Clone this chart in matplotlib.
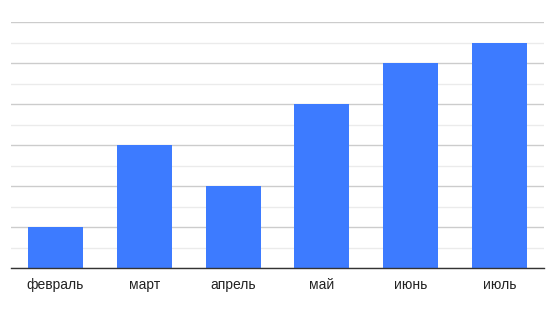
import matplotlib.pyplot as plt
import numpy as np

# Данные
months = ['февраль', 'март', 'апрель', 'май', 'июнь', 'июль']
values = [2, 6, 4, 8, 10, 11]

plt.rcParams['font.family'] = ['Liberation Sans', 'DejaVu Sans']

fig = plt.figure(figsize=(5.57, 3.12), dpi=100)
ax = fig.add_axes([11/557, 44/312, 533/557, 246/312])

x = np.arange(len(months))
ax.bar(x, values, width=0.62, color='#3d7bff', zorder=3)

ax.set_xlim(-0.5, len(months) - 0.5)
ax.set_ylim(0, 12)

# Сетка: основные линии на чётных, второстепенные на нечётных
ax.set_yticks(range(0, 13, 2))
ax.set_yticks(range(1, 13, 2), minor=True)
ax.grid(True, axis='y', which='major', color='#cccccc', linewidth=1, zorder=0)
ax.grid(True, axis='y', which='minor', color='#ebebeb', linewidth=1, zorder=0)
ax.tick_params(axis='y', which='both', left=False, labelleft=False)

ax.set_xticks(x)
ax.set_xticklabels(months, fontsize=10, color='#222222')
ax.tick_params(axis='x', length=0, pad=7)

for side in ['top', 'right', 'left']:
    ax.spines[side].set_visible(False)
ax.spines['bottom'].set_color('#333333')
ax.spines['bottom'].set_linewidth(1)
ax.spines['bottom'].set_zorder(4)

plt.savefig('out.png', dpi=100)
